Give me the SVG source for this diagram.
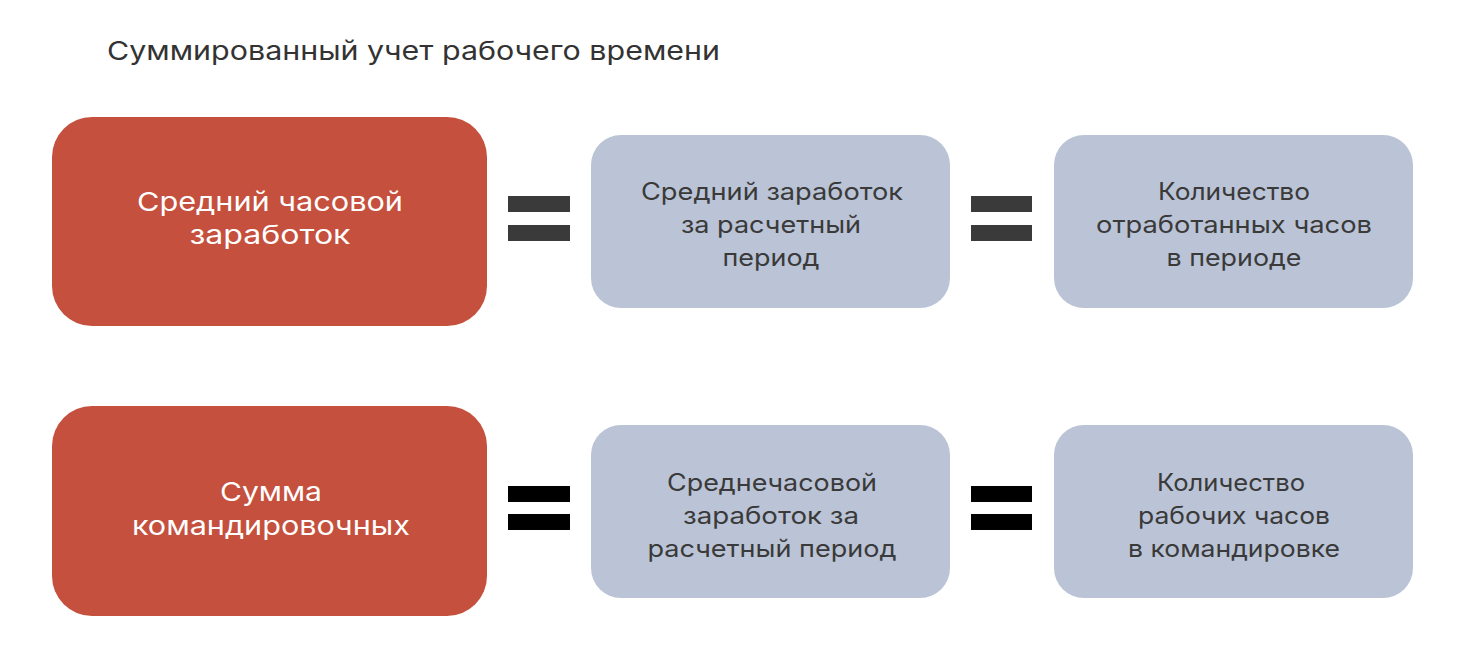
<svg xmlns="http://www.w3.org/2000/svg" width="1472" height="666" viewBox="0 0 1472 666">
<style>
.red{fill:#C4503D}
.blue{fill:#BAC4D6}
.t{font-family:"Inter","Noto Sans","DejaVu Sans",sans-serif;text-anchor:middle}
.w{fill:#FFFFFF;font-size:26px}
.d{fill:#3A3A3A;font-size:24px}
.title{font-family:"Inter","Noto Sans","DejaVu Sans",sans-serif;font-size:26px;fill:#333333}
.eq1{fill:#3A3A3A}
.eq2{fill:#000000}
</style>
<rect width="1472" height="666" fill="#FFFFFF"/>
<text class="title" x="107" y="60" textLength="613" lengthAdjust="spacingAndGlyphs">Суммированный учет рабочего времени</text>
<g id="node-red1">
<rect class="red" x="52" y="117" width="435" height="209" rx="40"/>
<text class="t w" x="270" y="211" textLength="266" lengthAdjust="spacingAndGlyphs">Средний часовой</text>
<text class="t w" x="270" y="244" textLength="161" lengthAdjust="spacingAndGlyphs">заработок</text>
</g>
<g id="node-blue1a">
<rect class="blue" x="591" y="135" width="359" height="173" rx="30"/>
<text class="t d" x="772" y="200" textLength="262" lengthAdjust="spacingAndGlyphs">Средний заработок</text>
<text class="t d" x="771" y="233" textLength="180" lengthAdjust="spacingAndGlyphs">за расчетный</text>
<text class="t d" x="771" y="266" textLength="97" lengthAdjust="spacingAndGlyphs">период</text>
</g>
<g id="node-blue1b">
<rect class="blue" x="1054" y="135" width="359" height="173" rx="30"/>
<text class="t d" x="1234" y="200" textLength="152" lengthAdjust="spacingAndGlyphs">Количество</text>
<text class="t d" x="1234" y="233" textLength="276" lengthAdjust="spacingAndGlyphs">отработанных часов</text>
<text class="t d" x="1234" y="266" textLength="135" lengthAdjust="spacingAndGlyphs">в периоде</text>
</g>
<g id="node-red2">
<rect class="red" x="52" y="406" width="435" height="210" rx="40"/>
<text class="t w" x="271" y="501" textLength="102" lengthAdjust="spacingAndGlyphs">Сумма</text>
<text class="t w" x="271" y="535" textLength="278" lengthAdjust="spacingAndGlyphs">командировочных</text>
</g>
<g id="node-blue2a">
<rect class="blue" x="591" y="425" width="359" height="173" rx="30"/>
<text class="t d" x="772" y="491" textLength="210" lengthAdjust="spacingAndGlyphs">Среднечасовой</text>
<text class="t d" x="771" y="524" textLength="176" lengthAdjust="spacingAndGlyphs">заработок за</text>
<text class="t d" x="772" y="557" textLength="249" lengthAdjust="spacingAndGlyphs">расчетный период</text>
</g>
<g id="node-blue2b">
<rect class="blue" x="1054" y="425" width="359" height="173" rx="30"/>
<text class="t d" x="1231" y="491" textLength="148" lengthAdjust="spacingAndGlyphs">Количество</text>
<text class="t d" x="1234" y="524" textLength="192" lengthAdjust="spacingAndGlyphs">рабочих часов</text>
<text class="t d" x="1234" y="557" textLength="212" lengthAdjust="spacingAndGlyphs">в командировке</text>
</g>
<g id="connectors">
<rect class="eq1" x="508" y="196" width="62" height="16"/>
<rect class="eq1" x="508" y="225" width="62" height="16"/>
<rect class="eq1" x="971" y="196" width="61" height="16"/>
<rect class="eq1" x="971" y="225" width="61" height="16"/>
<rect class="eq2" x="508" y="486" width="62" height="16"/>
<rect class="eq2" x="508" y="514" width="62" height="16"/>
<rect class="eq2" x="971" y="486" width="61" height="16"/>
<rect class="eq2" x="971" y="514" width="61" height="16"/>
</g>
</svg>
